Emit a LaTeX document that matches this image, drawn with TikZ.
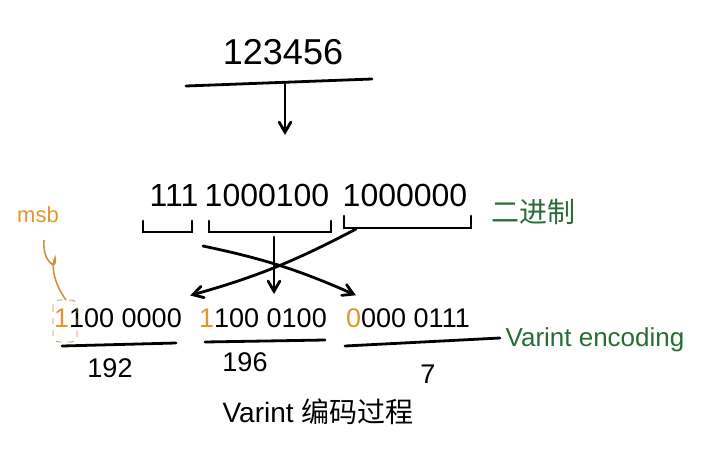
\documentclass[tikz,border=0pt]{standalone}
\usepackage{fontspec}
\setmainfont{Liberation Sans}
\newfontfamily\cjk{Noto Sans CJK SC}
\usetikzlibrary{arrows,positioning}
\definecolor{notegreen}{RGB}{38,110,52}
\definecolor{msborange}{RGB}{226,150,48}
\tikzset{
    %Define standard arrow tip
    >=angle 60,
    %Define style for the numbers
    number/.style={
           font=\fontsize{18}{20}\selectfont,
           inner sep=1pt},
    group/.style={
           font=\fontsize{16}{18}\selectfont,
           inner sep=1pt},
    byte/.style={
           font=\fontsize{13.5}{15}\selectfont,
           inner sep=1pt},
    note/.style={
           text=notegreen,
           font=\fontsize{13}{15}\selectfont},
    % Define line styles
    pen/.style={
           line width=1.4pt,
           line cap=round},
    pil/.style={
           ->,
           pen,
           shorten >=1pt}
}

\begin{document}
\begin{tikzpicture}[x=0.5pt,y=-0.5pt]
\useasboundingbox (0,0) rectangle (718,456);
 %decimal number
\node[number](n) at (283,52){123456};
\coordinate (u1) at (186,86);
\coordinate (u2) at (372,79);
\draw[pen] (u1) -- (u2);
\coordinate (d0) at (285,84);
\coordinate (d1) at (285,137);
\draw[pil] (d0) -- (d1);
 %binary groups
\node[group](g1) at (174,195){111};
\node[group](g2) at (267,195){1000100};
\node[group](g3) at (405,195){1000000};
\node[note, font=\cjk\fontsize{14}{16}\selectfont](bin) at (533,212){二进制};
\draw[pen] (143,221) |- (192,232) -- (192,221);
\draw[pen] (209,221) |- (331,232) -- (331,221);
\draw[pen] (344,216) |- (471,228) -- (471,216);
 %bytes
\node[byte](b1) at (118,318){{\color{msborange}1}100 0000};
\node[byte](b2) at (263,318){{\color{msborange}1}100 0100};
\node[byte](b3) at (408,318){{\color{msborange}0}000 0111};
\node[note](enc) at (595,340){Varint encoding};
\coordinate (s1) at (203,246);
\coordinate (s2) at (274,237);
\coordinate (s3) at (356,229);
\draw[pil] (s3) to[bend left=6] ([shift={(2pt,5pt)}]b1.north east);
\draw[pil] (s2) -- ([yshift=5pt]s2 |- b2.north);
\draw[pil] (s1) to[bend left=6] ([shift={(7pt,5pt)}]b3.north west);
\draw[pen] (62,346) -- (176,343);
\draw[pen] (205,342) -- (325,340);
\draw[pen] (345,346) -- (500,338);
\node[byte](v1) at (110,368){192};
\node[byte](v2) at (245,362){196};
\node[byte](v3) at (428,374){7};
 %msb mark
\node[text=msborange, font=\fontsize{11}{13}\selectfont](msb) at (38,215){msb};
\draw[msborange!70!gray, thin, dashed, rounded corners=3pt] (53,300) rectangle (77,342);
\draw[msborange!80!gray, thick] (44,240) .. controls (42,262) and (58,272) .. (55,258)
      .. controls (50,268) and (56,286) .. (66,300);
 %caption
\node[font=\fontsize{14}{16}\selectfont](cap) at (318,412){Varint {\cjk 编码过程}};
\end{tikzpicture}
\end{document}
